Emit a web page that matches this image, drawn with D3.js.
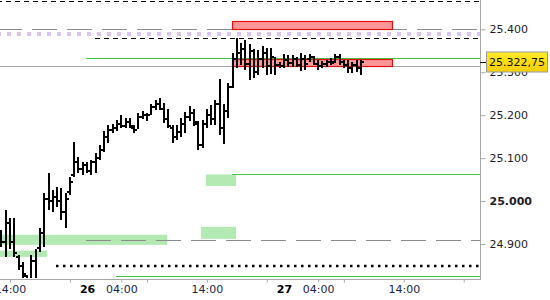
<!DOCTYPE html>
<html><head><meta charset="utf-8">
<script src="https://cdn.jsdelivr.net/npm/d3@7/dist/d3.min.js"></script>
<style>body{margin:0;background:#fff}svg{display:block}text{font-family:"DejaVu Sans",sans-serif}</style>
</head><body><svg id="c" width="550" height="300"></svg>
<script>
// 30-minute bars, slot 0 = 25th 14:00 (session break 23:00-00:00 removed)
const firstSlot = -2;
const openV  = [24920,24905,24950,24905,24870,24848,24825,24810,24860,24890,24925,25005,25000,25010,25000,24975,25020,25060,25090,25075,25085,25070,25090,25100,25120,25150,25165,25170,25180,25175,25185,25170,25165,25195,25200,25200,25220,25225,25215,25190,25170,25150,25160,25180,25195,25205,25180,25130,25180,25200,25190,25225,25170,25210,25265,25330,25345,25355,25320,25350,25300,25330,25345,25315,25335,25318,25315,25328,25322,25330,25318,25330,25330,25335,25320,25315,25320,25325,25325,25335,25325,25318,25310,25318,25310];
const highV  = [24933,24979,24961,24961,24875,24859,24828,24875,24888,24938,25019,25065,25026,25033,25030,25019,25056,25138,25103,25091,25091,25096,25112,25131,25163,25177,25179,25189,25200,25193,25193,25177,25205,25210,25205,25226,25235,25240,25228,25214,25177,25177,25193,25207,25221,25214,25186,25189,25214,25224,25235,25284,25226,25275,25345,25380,25368,25375,25366,25354,25352,25361,25356,25356,25335,25324,25342,25340,25340,25335,25345,25340,25342,25338,25328,25326,25328,25333,25342,25342,25328,25328,25324,25328,25328];
const lowV   = [24893,24870,24888,24870,24840,24821,24793,24805,24805,24881,24893,24979,24975,24986,24956,24938,25014,25056,25065,25061,25065,25061,25065,25096,25114,25135,25158,25163,25170,25170,25170,25158,25168,25191,25186,25200,25212,25212,25182,25170,25135,25142,25149,25158,25186,25175,25119,25124,25170,25177,25177,25154,25133,25193,25263,25310,25317,25305,25282,25287,25294,25310,25294,25296,25294,25310,25310,25312,25312,25312,25303,25305,25324,25317,25305,25310,25312,25317,25322,25317,25310,25298,25298,25301,25294];
const closeV = [24905,24950,24905,24880,24848,24830,24800,24860,24815,24925,25005,25000,25010,25000,24975,25005,25045,25090,25075,25085,25070,25090,25100,25120,25150,25165,25170,25180,25175,25185,25175,25165,25195,25200,25200,25220,25225,25215,25190,25175,25150,25160,25180,25195,25205,25185,25130,25180,25200,25190,25225,25170,25210,25265,25330,25345,25355,25320,25350,25300,25330,25345,25315,25335,25318,25315,25328,25322,25330,25318,25330,25320,25335,25320,25315,25320,25325,25322,25335,25325,25318,25310,25318,25310,25322.75];
const lastPrice = 25322.75;

const yTicks = [24900, 25000, 25100, 25200, 25300, 25400];
const yBoldTick = 25000;
const xTickMarks = [0, 14, 26, 32, 46, 60, 72, 78, 92, 106];
const xLabelSlots = [0, 18, 26, 46, 64, 72, 92];
const xLabelTexts = ["14:00", "26", "04:00", "14:00", "27", "04:00", "14:00"];
const xLabelBold  = [false, true, false, false, true, false, false];

// horizontal levels: [value, startSlot, style]
const levelValues = [25465, 25400, 25389, 25379, 25332.5, 25313.8, 25062.3, 24908.6, 24849.5, 24826.2];
const levelStarts = [-3, -3, -3, 19.85, 17.75, -3, 51.85, 17.75, 10.75, 24.75];
const levelStyles = ["blackDash", "greyDash", "lilacDot", "blackDash", "green", "grey", "green", "greyDash", "blackDot", "green"];
// zones: [fromSlot, toSlot, lowValue, highValue]
const redZones   = [[51.85, 89.25, 25400, 25419], [51.85, 89.25, 25314.5, 25331]];
const greenZones = [[45.8, 52.8, 25035, 25062], [44.6, 52.8, 24912, 24940], [-3, 36.7, 24898, 24921.5], [-3, 8.64, 24870, 24884.5]];

const W = 480, H = 279;
const svg = d3.select("#c");
const x = d3.scaleLinear().domain([0, 92]).range([10, 403.8]);
const y = d3.scaleLinear().domain([24900, 25400]).range([244, 29.3]);
const loc = d3.formatLocale({decimal: ",", thousands: ".", grouping: [3], currency: ["", ""]});
const f0 = loc.format(",.0f"), f2 = loc.format(",.2f");

svg.append("defs").append("clipPath").attr("id", "pc").append("rect").attr("x", 0).attr("y", 0).attr("width", W).attr("height", H - 1);
const plot = svg.append("g").attr("clip-path", "url(#pc)");

// green zones
plot.selectAll("rect.gz").data(greenZones).join("rect").attr("class", "gz")
  .attr("x", d => x(d[0])).attr("width", d => x(d[1]) - x(d[0]))
  .attr("y", d => y(d[3])).attr("height", d => y(d[2]) - y(d[3]))
  .attr("fill", "#b3e9b3");

const styleMap = {
  blackDash: {c: "#000", w: 1, da: "5,4"},
  greyDash: {c: "#8c8c8c", w: 1, da: "25,10"},
  lilacDot: {c: "#dcc4f0", w: 4, da: "4,6"},
  green: {c: "#44c844", w: 1, da: null},
  grey: {c: "#a8a8a8", w: 1, da: null},
  blackDot: {c: "#000", w: 2.5, da: "2.5,4.5"}
};
levelValues.forEach((v, k) => {
  const s = styleMap[levelStyles[k]];
  const yy = Math.round(y(v)) + (s.w % 2 === 1 ? 0.5 : 0);
  plot.append("line").attr("x1", Math.round(x(levelStarts[k]))).attr("x2", W).attr("y1", yy).attr("y2", yy)
    .attr("stroke", s.c).attr("stroke-width", s.w).attr("stroke-dasharray", s.da);
});

// red zones
plot.selectAll("rect.rz").data(redZones).join("rect").attr("class", "rz")
  .attr("x", d => Math.round(x(d[0])) + 0.5).attr("width", d => Math.round(x(d[1]) - x(d[0])))
  .attr("y", d => Math.round(y(d[3])) + 0.5).attr("height", d => Math.round(y(d[2]) - y(d[3])))
  .attr("fill", "#ff9797").attr("stroke", "#e01010").attr("stroke-width", 1.2);

// OHLC bars
const bars = openV.map((o, k) => ({s: firstSlot + k, o, h: highV[k], l: lowV[k], c: closeV[k]}));
const bg = plot.append("g").attr("shape-rendering", "crispEdges");
bars.forEach(d => {
  const cx = Math.round(x(d.s));
  bg.append("rect").attr("x", cx - 1).attr("width", 2).attr("y", Math.round(y(d.h))).attr("height", Math.max(2, Math.round(y(d.l)) - Math.round(y(d.h)))).attr("fill", "#000");
  bg.append("rect").attr("x", cx - 3).attr("width", 2).attr("y", Math.round(y(d.o)) - 1).attr("height", 2).attr("fill", "#000");
  bg.append("rect").attr("x", cx + 1).attr("width", 2).attr("y", Math.round(y(d.c)) - 1).attr("height", 2).attr("fill", "#000");
});

// axes
const axisCol = "#a8a8a8";
svg.append("line").attr("x1", W + 0.5).attr("x2", W + 0.5).attr("y1", 0).attr("y2", H).attr("stroke", axisCol);
svg.append("line").attr("x1", 0).attr("x2", W + 1).attr("y1", H + 0.5).attr("y2", H + 0.5).attr("stroke", axisCol);

const yAx = svg.append("g").attr("transform", `translate(${W + 0.5},0)`)
  .call(d3.axisRight(y).tickValues(yTicks).tickSize(5).tickPadding(4).tickFormat(f0));
yAx.select(".domain").remove();
yAx.selectAll(".tick line").attr("stroke", axisCol);
yAx.selectAll(".tick text").attr("font-family", "DejaVu Sans").attr("font-size", 11).attr("fill", "#1e1e28")
  .attr("font-weight", d => d === yBoldTick ? "bold" : "normal");

const xAx = svg.append("g").attr("transform", `translate(0,${H + 0.5})`)
  .call(d3.axisBottom(x).tickValues(xTickMarks).tickSize(3).tickFormat(""));
xAx.select(".domain").remove();
xAx.selectAll(".tick line").attr("stroke", axisCol);
const xLab = svg.append("g").attr("transform", `translate(0,${H + 0.5})`)
  .call(d3.axisBottom(x).tickValues(xLabelSlots).tickSize(0).tickPadding(6).tickFormat((d, k) => xLabelTexts[k]));
xLab.select(".domain").remove();
xLab.selectAll(".tick text").attr("font-family", "DejaVu Sans").attr("font-size", 11)
  .attr("font-weight", (d, k) => xLabelBold[k] ? "bold" : "normal")
  .attr("fill", (d, k) => xLabelBold[k] ? "#000" : "#1c2548");

// last price marker
const py = Math.round(y(lastPrice)) + 0.5;
svg.append("line").attr("x1", W).attr("x2", W + 7).attr("y1", py).attr("y2", py).attr("stroke", "#000");
const grad = svg.select("defs").append("linearGradient").attr("id", "yg").attr("x1", 0).attr("x2", 0).attr("y1", 0).attr("y2", 1);
grad.append("stop").attr("offset", "0%").attr("stop-color", "#ffea2a");
grad.append("stop").attr("offset", "100%").attr("stop-color", "#f7cf00");
svg.append("rect").attr("x", W + 6.5).attr("y", py - 10.5).attr("width", 61).attr("height", 20)
  .attr("fill", "url(#yg)").attr("stroke", "#9a9a9a");
svg.append("text").attr("x", W + 9).attr("y", py).attr("dy", "0.36em").attr("font-size", 11).attr("fill", "#111")
  .text(f2(lastPrice));
</script></body></html>
